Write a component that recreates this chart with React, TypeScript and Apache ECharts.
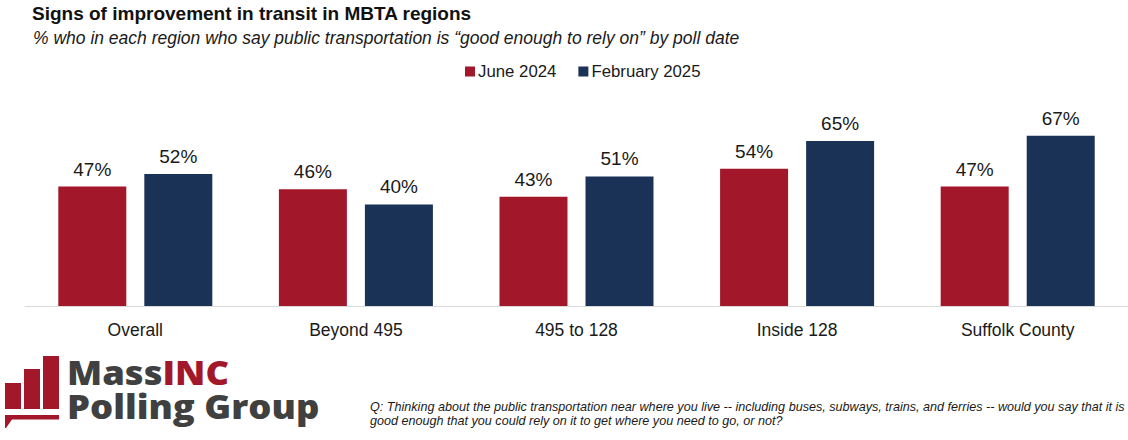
import React, { useEffect, useRef } from "react";
import * as echarts from "echarts";

const categories = ["Overall", "Beyond 495", "495 to 128", "Inside 128", "Suffolk County"];
const june2024 = [47, 46, 43, 54, 47];
const feb2025 = [52, 40, 51, 65, 67];
const seriesNames = ["June 2024", "February 2025"];

const RED = "#A3172A";
const NAVY = "#1B3257";
const GRAY = "#404040";
const FONT = "'Liberation Sans', Arial, sans-serif";
const LOGO_FONT = "'Open Sans', Lato, sans-serif";

export default function App() {
  const ref = useRef<HTMLDivElement>(null);
  useEffect(() => {
    if (!ref.current) return;
    const chart = echarts.init(ref.current, undefined, { renderer: "svg" });
    const label = {
      show: true,
      position: "top",
      distance: 8,
      formatter: "{c}%",
      fontSize: 19,
      color: "#1a1a1a",
      fontFamily: FONT,
    };
    const logoStyle = { fontSize: 34, lineHeight: 34, fontWeight: 800, fontFamily: LOGO_FONT };
    chart.setOption({
      animation: false,
      backgroundColor: "#ffffff",
      legend: {
        data: seriesNames,
        top: 58,
        left: 460,
        icon: "rect",
        itemWidth: 10,
        itemHeight: 10,
        itemGap: 22,
        textStyle: { fontSize: 16.8, color: "#1a1a1a", fontFamily: FONT, padding: [0, 0, 0, -2] },
      },
      grid: { left: 25, width: 1112, top: 52, height: 254 },
      xAxis: {
        type: "category",
        data: categories,
        axisLine: { show: true, lineStyle: { color: "#d9d9d9", width: 1 } },
        axisTick: { show: false },
        axisLabel: { fontSize: 17.5, color: "#1a1a1a", fontFamily: FONT, margin: 15 },
      },
      yAxis: { type: "value", min: 0, max: 100, show: false, splitLine: { show: false } },
      series: [
        {
          name: seriesNames[0],
          type: "bar",
          data: june2024,
          barWidth: 68,
          barGap: "26.5%",
          itemStyle: { color: RED },
          label,
        },
        {
          name: seriesNames[1],
          type: "bar",
          data: feb2025,
          barWidth: 68,
          barGap: "26.5%",
          itemStyle: { color: NAVY },
          label,
        },
      ],
      graphic: [
        {
          type: "text",
          left: 32,
          top: 4,
          style: {
            text: "Signs of improvement in transit in MBTA regions",
            fontSize: 19,
            fontWeight: "bold",
            fill: "#111",
            fontFamily: FONT,
          },
        },
        {
          type: "text",
          left: 33,
          top: 29,
          style: {
            text: "% who in each region who say public transportation is \u201cgood enough to rely on\u201d by poll date",
            fontSize: 17.5,
            fontStyle: "italic",
            fill: "#1a1a1a",
            fontFamily: FONT,
          },
        },
        // logo bars
        { type: "rect", shape: { x: 5, y: 383, width: 16, height: 26 }, style: { fill: RED } },
        { type: "rect", shape: { x: 24, y: 369, width: 16, height: 40 }, style: { fill: RED } },
        { type: "rect", shape: { x: 43, y: 356, width: 16, height: 53 }, style: { fill: RED } },
        {
          type: "polygon",
          shape: { points: [[5, 415], [59, 415], [59, 419.5], [12, 419.5], [6, 428], [5, 428]] },
          style: { fill: RED },
        },
        {
          type: "text",
          x: 67,
          y: 354,
          scaleX: 1.07,
          style: {
            text: "{g|Mass}{r|INC}\n{g|Polling Group}",
            verticalAlign: "top",
            rich: {
              g: { ...logoStyle, fill: GRAY },
              r: { ...logoStyle, fill: RED },
            },
          },
        },
        {
          type: "text",
          left: 370,
          top: 400,
          style: {
            text:
              "Q: Thinking about the public transportation near where you live -- including buses, subways, trains, and ferries -- would you say that it is\ngood enough that you could rely on it to get where you need to go, or not?",
            fontSize: 12.6,
            lineHeight: 14,
            fontStyle: "italic",
            fill: "#1a1a1a",
            fontFamily: "'Liberation Sans Narrow', 'Liberation Sans', sans-serif",
          },
        },
      ],
    });
    return () => chart.dispose();
  }, []);
  return (
    <div
      ref={ref}
      style={{ position: "fixed", left: 0, top: 0, width: 1128, height: 440, background: "#fff" }}
    />
  );
}
